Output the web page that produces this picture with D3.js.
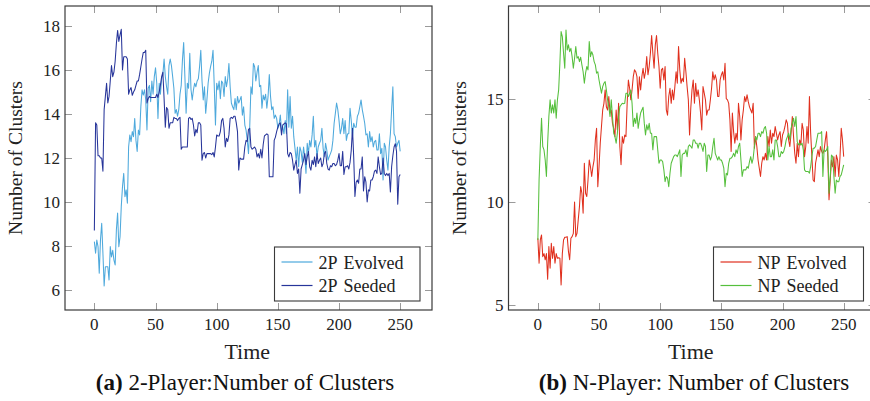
<!DOCTYPE html>
<html>
<head>
<meta charset="utf-8">
<script src="https://cdn.jsdelivr.net/npm/d3@7"></script>
<style>
  html, body { margin: 0; padding: 0; background: #fff; }
  svg { display: block; font-family: "Liberation Serif", "DejaVu Serif", serif; }
</style>
</head>
<body>
<svg id="chart" width="870" height="401"></svg>
<script>
// ---------------- DATA ----------------
const xTicks = [0, 50, 100, 150, 200, 250];
const yTicksLeft = [6, 8, 10, 12, 14, 16, 18];
const yTicksRight = [5, 10, 15];

const seriesNames2P = ["2P Evolved", "2P Seeded"];
const seriesNamesNP = ["NP Evolved", "NP Seeded"];

// Values at Time = 0, 1, 2, ... 250
const evolved2P = [
  8.2,7.67,8.27,7.97,6.76,8.27,9.03,7.67,6.18,7.06,
  7.06,7.06,6.45,7.97,7.5,7.8,7.36,7.14,8.73,9.5,
  7.97,8.42,9.8,10.7,11.3,10.24,10.55,9.94,12.5,13.05,
  12.74,13.2,12.97,13.8,12.8,12.3,13.27,13.05,14.33,15.1,
  14.86,15.1,14.64,13.27,15.17,15.3,14.56,15.5,14.9,15.7,
  16.1,15.4,13.8,15.4,14.9,15.6,15.8,16.5,15.7,15.24,
  14.9,16.2,16.5,16.2,15.7,15.17,14.03,14.2,13.9,14.2,
  14.9,15.3,16.45,17.25,15.7,14.03,15.4,15.17,16.76,15.1,
  14.64,15.1,15.4,15.24,15.5,15.6,16.15,16.9,15.5,14.64,
  15.24,14.03,14.64,15.4,15.85,16.15,16.4,16.9,15.3,13.5,
  15.4,15.1,15.5,14.7,15.5,15.4,14.8,15.7,15.24,15.6,
  16.3,15.24,14.5,14.33,14.2,14.7,14.2,14.8,14.5,14.64,
  14.8,13.95,14.33,13.5,13.27,12.8,12.2,13.4,15.24,14.9,
  16.3,16.15,15.5,15.9,16.2,15.24,15.3,14.26,14.86,14.64,
  14.9,14.26,14.8,15.8,14.8,14.2,14.33,13.8,13.95,13.8,
  13.35,13.5,13.95,13.27,13.4,13.1,13.7,13.1,15.1,13.4,
  14.8,13.35,13.9,12.97,12.44,11.9,12.5,11.6,12.5,12.3,
  11.8,12.5,12.06,11.3,12.67,12.2,12.8,12.5,13.05,13.9,
  12.5,12.8,12.06,12.5,12.67,12.8,13.35,12.44,12.06,12.67,
  12.36,11.9,12.06,12.2,12.36,12.8,13.58,14.03,14.5,14.2,
  13.7,13.1,13.35,13.8,13.1,13.7,12.8,13.1,13.1,14.26,
  13.7,12.97,13.58,13.4,13.4,13.9,14.03,14.33,14.64,14.2,
  13.9,13.58,13.05,13.1,12.5,13.2,12.74,12.97,12.5,12.74,
  12.8,12.36,12.36,13.1,12.2,12.44,11.0,12.67,12.5,11.9,
  11.45,12.5,13.1,14.2,15.24,13.1,12.97,12.5,12.67,12.8,
  12.3
];
const seeded2P = [
  8.7,13.6,13.5,12.1,12.1,12.0,12.0,11.4,14.2,14.8,
  15.4,14.5,14.8,15.5,16.2,15.7,15.9,16.4,17.2,17.8,
  17.3,17.6,17.85,16.0,16.6,16.6,16.6,16.5,14.9,15.1,
  15.2,14.85,15.0,15.1,15.3,15.5,15.5,15.8,16.15,16.5,
  16.8,16.8,16.9,14.5,14.7,14.8,14.75,14.75,14.75,14.75,
  14.75,14.9,14.75,15.0,15.3,15.7,15.9,14.7,13.4,14.3,
  14.2,13.35,13.6,13.6,13.6,13.85,13.8,13.8,13.7,13.8,
  13.85,12.4,12.5,12.5,12.5,12.5,12.5,13.8,13.85,13.75,
  13.8,13.5,13.0,13.3,13.15,13.6,13.6,13.5,11.9,12.2,
  12.25,12.0,12.2,12.2,12.2,12.2,12.15,12.25,12.05,12.5,
  13.05,13.0,13.0,13.2,13.7,13.8,13.35,12.5,12.9,12.75,
  13.05,13.8,13.85,13.8,13.9,13.9,13.6,13.2,11.45,12.0,
  11.95,11.95,11.95,12.5,12.8,12.75,13.3,13.35,12.5,12.4,
  12.45,12.5,12.4,12.05,12.2,12.0,12.4,12.0,12.6,13.0,
  13.05,13.1,13.05,11.15,11.15,11.15,11.15,12.8,12.95,13.2,
  13.4,13.55,13.6,13.05,13.5,13.55,13.6,13.55,12.2,12.05,
  12.25,12.2,11.9,11.45,11.7,11.9,11.3,11.5,10.4,11.5,
  11.7,11.9,12.2,11.7,12.05,12.3,11.6,11.45,11.9,11.7,
  12.05,11.6,12.2,11.75,11.9,12.0,11.6,11.75,12.2,12.3,
  11.75,11.5,11.45,11.65,11.6,11.75,11.75,11.65,11.7,11.9,
  12.2,11.65,11.65,12.3,11.25,11.6,11.6,11.65,11.5,11.8,
  12.35,13.35,12.05,10.25,10.9,11.0,10.85,11.5,11.5,12.05,
  10.5,11.15,10.9,10.0,10.55,10.5,11.0,11.0,11.15,11.4,
  11.45,11.3,12.05,11.6,11.25,11.3,12.0,11.3,11.2,11.3,
  11.2,11.3,10.45,11.6,12.1,12.5,12.65,12.3,9.9,11.15,
  11.25
];
const evolvedNP = [
  8.24,7.03,8.16,8.4,7.35,7.5,7.2,7.5,6.26,7.84,
  6.79,8.0,7.27,7.84,7.03,7.5,7.27,7.3,7.27,5.98,
  7.5,8.16,8.29,8.29,8.32,7.6,7.2,8.24,8.32,8.48,
  10.0,8.32,8.48,9.13,9.77,10.74,10.42,9.45,11.87,10.42,
  10.26,11.06,12.03,11.7,11.23,11.7,12.03,13.0,13.56,10.74,
  11.7,12.84,13.65,14.45,14.77,15.42,14.6,14.45,15.1,14.3,
  14.45,13.8,13.56,13.16,14.45,13.48,14.77,12.68,11.8,13.16,
  12.84,13.24,13.16,14.77,15.9,15.5,14.94,15.42,16.06,16.39,
  16.3,16.06,15.0,16.06,15.42,16.06,16.47,15.98,16.3,17.03,
  16.15,16.55,17.19,18.05,17.19,16.47,17.6,18.05,17.19,16.55,
  15.5,16.39,16.47,15.9,16.55,14.45,14.2,15.1,15.5,14.77,
  15.42,14.94,15.58,16.3,15.74,17.52,16.39,15.74,15.98,15.82,
  16.95,16.3,15.58,14.94,13.24,14.53,15.42,15.9,14.77,15.74,
  15.1,15.42,14.94,14.3,13.48,15.58,15.26,14.94,14.2,14.45,
  14.45,14.94,15.5,16.3,15.9,16.15,15.9,15.1,15.1,15.9,
  16.15,16.3,15.9,16.71,15.0,14.94,14.77,13.97,12.44,14.3,
  13.4,12.84,13.32,13.0,14.77,14.13,13.0,13.97,14.45,15.1,
  14.85,15.18,14.85,14.6,14.45,14.3,14.77,12.6,13.16,12.68,
  12.03,11.63,11.23,11.87,12.19,12.03,12.35,12.03,13.16,12.68,
  13.48,12.84,13.32,13.16,13.65,13.32,13.0,13.24,13.4,12.68,
  13.24,13.4,13.65,13.97,13.8,13.0,12.68,13.32,14.13,13.16,
  12.35,11.87,12.84,12.19,13.0,12.76,13.8,13.48,12.19,12.68,
  13.65,12.84,15.1,13.32,12.19,11.06,10.98,11.87,12.19,12.52,
  12.19,12.68,12.44,12.35,12.52,13.0,13.4,12.19,10.1,11.06,
  12.03,11.7,12.19,11.23,12.27,12.03,11.23,12.19,13.56,13.0,
  12.19
];
const seededNP = [
  8.16,11.06,12.68,14.05,12.68,12.52,12.03,11.23,12.84,14.13,
  14.94,14.3,14.7,14.3,14.94,14.05,14.94,15.42,16.71,18.24,
  18.0,17.19,16.47,18.32,17.35,17.6,17.27,17.43,17.03,16.47,
  16.95,17.52,16.95,17.03,16.79,17.0,16.63,16.3,15.74,16.23,
  16.55,16.39,17.76,17.03,17.27,17.11,16.79,16.63,16.23,16.3,
  15.9,15.58,15.26,15.58,15.74,15.82,15.42,14.94,14.61,14.13,
  14.94,14.13,13.32,13.16,12.84,13.32,14.13,14.61,14.69,14.77,
  14.75,14.77,15.26,15.26,15.1,15.26,15.42,14.77,13.65,14.05,
  13.8,14.3,13.56,13.97,14.3,14.45,14.58,13.8,13.24,13.73,
  13.48,13.8,13.32,13.32,12.52,13.16,13.16,13.16,12.52,11.87,
  12.03,12.03,11.95,11.55,10.98,11.23,11.15,10.74,11.39,11.87,
  12.03,12.19,12.27,12.27,12.19,12.35,12.52,11.23,12.27,12.35,
  12.35,12.52,12.19,12.68,12.76,12.68,12.6,13.0,13.0,12.84,
  12.84,12.6,12.84,12.84,12.68,12.44,12.84,12.68,11.47,12.27,
  12.27,12.03,12.19,12.68,13.08,12.35,12.19,12.03,12.19,12.03,
  12.03,11.87,11.63,10.74,11.39,11.31,11.87,12.11,12.11,12.19,
  12.35,12.19,12.52,12.35,12.68,12.84,12.03,11.23,11.55,11.55,
  11.55,11.71,11.63,11.95,12.19,11.87,12.11,12.68,13.16,13.0,
  13.32,13.32,13.16,13.4,13.32,13.56,13.65,13.32,12.03,12.68,
  12.19,12.19,12.52,12.03,13.0,13.0,12.68,12.19,12.19,12.44,
  12.35,12.44,12.68,13.0,13.16,13.32,13.0,13.56,13.8,14.05,
  13.65,14.13,12.92,12.76,12.84,12.76,12.84,12.52,11.55,11.47,
  11.47,11.47,11.39,11.71,12.19,12.6,12.6,12.68,13.0,13.32,
  13.32,13.32,13.4,11.23,12.52,12.44,12.52,12.68,10.42,11.23,
  12.27,12.19,11.23,10.42,11.06,10.98,10.98,11.23,11.31,11.55,
  11.79
];

// ---------------- DRAW ----------------
const svg = d3.select("#chart");

function panel(opts) {
  const { left, right, top, bottom, yDomain, yTicks, series, names, colors,
          legend, yLabelX, captionX, captionBold, captionRest } = opts;
  const x = d3.scaleLinear().domain([-24, 276]).range([left, right]);
  const y = d3.scaleLinear().domain(yDomain).range([bottom, top]);
  const g = svg.append("g");

  const cid = "clip" + Math.round(left);
  g.append("clipPath").attr("id", cid).append("rect")
    .attr("x", left).attr("y", top).attr("width", right - left).attr("height", bottom - top);

  const tickLen = 7, tickCol = "#9a9a9a";
  const ticks = g.append("g").attr("stroke", tickCol).attr("stroke-width", 1);
  xTicks.forEach(t => {
    const xx = Math.round(x(t)) + 0.5;
    ticks.append("line").attr("x1", xx).attr("x2", xx).attr("y1", bottom).attr("y2", bottom - tickLen);
    ticks.append("line").attr("x1", xx).attr("x2", xx).attr("y1", top).attr("y2", top + tickLen);
  });
  yTicks.forEach(t => {
    const yy = Math.round(y(t)) + 0.5;
    ticks.append("line").attr("x1", left).attr("x2", left + tickLen).attr("y1", yy).attr("y2", yy);
    ticks.append("line").attr("x1", right).attr("x2", right - tickLen).attr("y1", yy).attr("y2", yy);
  });

  const line = d3.line().x((d, i) => x(i)).y(d => y(d));
  const lines = g.append("g").attr("clip-path", `url(#${cid})`);
  series.forEach((s, k) => {
    lines.append("path").datum(s).attr("d", line)
      .attr("fill", "none").attr("stroke", colors[k]).attr("stroke-width", 1.05)
      .attr("stroke-linejoin", "round");
  });

  g.append("rect").attr("x", left).attr("y", top).attr("width", right - left).attr("height", bottom - top)
    .attr("fill", "none").attr("stroke", "#3a3a3a").attr("stroke-width", 1.2);

  xTicks.forEach(t => {
    g.append("text").attr("x", x(t)).attr("y", 330).attr("text-anchor", "middle")
      .attr("font-size", 17).attr("fill", "#222").text(t);
  });
  yTicks.forEach(t => {
    g.append("text").attr("x", left - 5).attr("y", y(t)).attr("dy", "0.35em").attr("text-anchor", "end")
      .attr("font-size", 17).attr("fill", "#222").text(t);
  });

  g.append("text").attr("x", x(125)).attr("y", 359).attr("text-anchor", "middle")
    .attr("font-size", 22).attr("fill", "#222").text("Time");
  g.append("text").attr("transform", `translate(${yLabelX},158) rotate(-90)`)
    .attr("text-anchor", "middle").attr("font-size", 19.5).attr("fill", "#222").text("Number of Clusters");

  const lg = g.append("g");
  lg.append("rect").attr("x", legend.x).attr("y", 247).attr("width", legend.w).attr("height", 54)
    .attr("fill", "#fff").attr("stroke", "#3a3a3a").attr("stroke-width", 1.1);
  names.forEach((n, k) => {
    const ly = 262 + k * 23.5;
    lg.append("line").attr("x1", legend.x + 7).attr("x2", legend.x + 38).attr("y1", ly).attr("y2", ly)
      .attr("stroke", colors[k]).attr("stroke-width", 1.2);
    const parts = n.split(" ");
    const t = lg.append("text").attr("x", legend.x + 44).attr("y", ly + 6.5)
      .attr("font-size", 18).attr("fill", "#222");
    t.append("tspan").text(parts[0]);
    t.append("tspan").attr("dx", 6).text(parts[1]);
  });

  const c = g.append("text").attr("x", captionX).attr("y", 390).attr("text-anchor", "middle")
    .attr("font-size", 23).attr("fill", "#111");
  c.append("tspan").attr("font-weight", "bold").text(captionBold);
  c.append("tspan").text(captionRest);
}

panel({
  left: 65, right: 432, top: 6, bottom: 310,
  yDomain: [5.09, 18.91], yTicks: yTicksLeft,
  series: [evolved2P, seeded2P], names: seriesNames2P,
  colors: ["#4ea9dc", "#27359a"],
  legend: { x: 274.5, w: 145.5 },
  yLabelX: 22, captionX: 245,
  captionBold: "(a)", captionRest: " 2-Player:Number of Clusters"
});

panel({
  left: 508.5, right: 875.5, top: 6, bottom: 310,
  yDomain: [4.77, 19.48], yTicks: yTicksRight,
  series: [evolvedNP, seededNP], names: seriesNamesNP,
  colors: ["#e0301e", "#55bf3c"],
  legend: { x: 713.5, w: 150 },
  yLabelX: 466, captionX: 694,
  captionBold: "(b)", captionRest: " N-Player: Number of Clusters"
});
</script>
</body>
</html>
